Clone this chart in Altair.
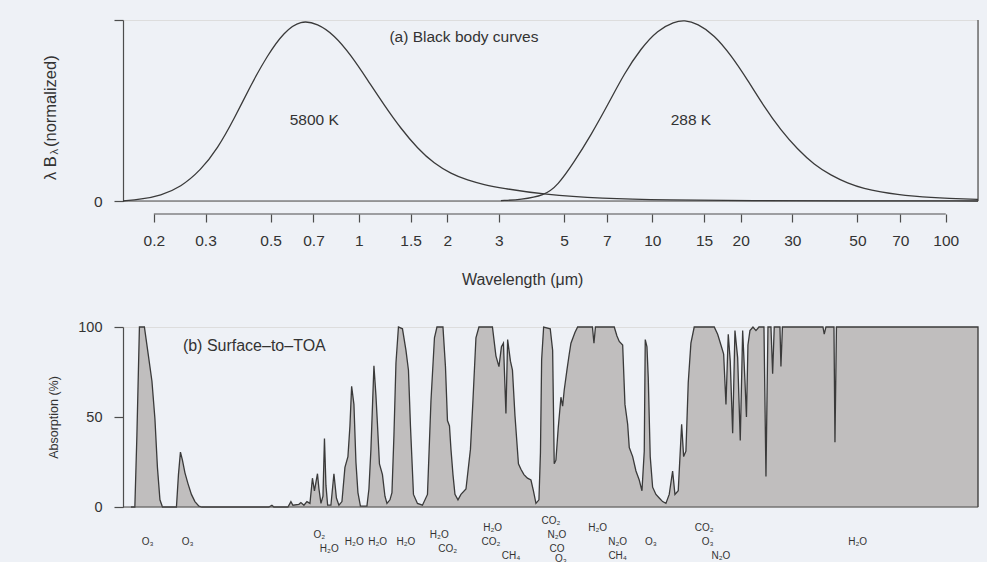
import altair as alt
import pandas as pd

FONT = "Liberation Sans"
INK = "#333333"
AXIS = "#4d4d4d"
BG = "#eef1f6"

# ---- wavelength axis -------------------------------------------------------
TICKS = [0.2, 0.3, 0.5, 0.7, 1, 1.5, 2, 3, 5, 7, 10, 15, 20, 30, 50, 70, 100]
WL_MIN, WL_MAX = 0.157, 128.8

# ---- (a) normalized lambda*B_lambda curves ----------------------------------
sun_wl = [0.157, 0.181, 0.211, 0.247, 0.289, 0.330, 0.376, 0.428, 0.488, 0.556,
          0.634, 0.723, 0.824, 0.939, 1.071, 1.219, 1.390, 1.585, 1.806, 2.059,
          2.347, 2.674, 3.048, 4.281, 6.68, 11.27, 21.7, 47.5, 128.8]
sun_val = [0.0, 0.01, 0.03, 0.077, 0.17, 0.29, 0.455, 0.64, 0.806, 0.935,
           1.0, 0.98, 0.917, 0.806, 0.668, 0.53, 0.40, 0.29, 0.206, 0.151,
           0.114, 0.09, 0.072, 0.035, 0.013, 0.005, 0.002, 0.001, 0.0]

earth_wl = [3.048, 3.565, 4.281, 4.755, 5.418, 6.177, 7.043, 8.024, 9.146, 10.43,
            11.88, 12.85, 14.27, 16.26, 18.53, 21.13, 24.07, 27.44, 31.27, 35.63,
            40.62, 46.31, 52.76, 60.13, 68.55, 78.08, 89.05, 101.5, 125.1, 128.8]
earth_val = [0.002, 0.008, 0.03, 0.085, 0.216, 0.364, 0.53, 0.705, 0.843, 0.945,
             0.99, 1.0, 0.98, 0.917, 0.806, 0.668, 0.52, 0.39, 0.285, 0.20,
             0.142, 0.098, 0.068, 0.05, 0.036, 0.027, 0.02, 0.015, 0.01, 0.009]

# ---- (b) surface-to-TOA absorption (%) -------------------------------------
abs_wl = [0.1671, 0.1723, 0.1751, 0.1786, 0.1857, 0.1909, 0.1970, 0.2017, 0.2057, 0.2098, 0.2140,
          0.2388, 0.2426, 0.2464, 0.2503, 0.2553, 0.2614, 0.2686, 0.2761, 0.2849, 0.2917,
          0.4934, 0.5051, 0.5131, 0.5728, 0.5864, 0.5957, 0.6244, 0.6343, 0.6494, 0.6649, 0.6808,
          0.6943, 0.7053, 0.7223, 0.7308, 0.7423, 0.7541, 0.7630, 0.7720, 0.7823, 0.8026, 0.8218,
          0.8381, 0.8547, 0.8752, 0.8960, 0.9173, 0.9318, 0.9443, 0.9615, 0.9767, 0.9922, 1.0118,
          1.0648, 1.0816, 1.0987, 1.1249, 1.1427, 1.1565, 1.1747, 1.2027, 1.2265, 1.2460, 1.2757,
          1.2959, 1.3163, 1.3372, 1.3636, 1.4073, 1.4464, 1.4751, 1.4984, 1.5342, 1.5831, 1.6464,
          1.7124, 1.7600, 1.8089, 1.8448, 1.9337, 1.9720, 2.0032, 2.0350, 2.0591, 2.0917, 2.1247,
          2.1753, 2.2270, 2.3164, 2.3990, 2.4465, 2.5050, 2.5645, 2.8510, 2.9302, 3.0004, 3.0598,
          3.1082, 3.1697, 3.2123, 3.2841, 3.3360, 3.4020, 3.4965, 3.5656, 3.6510, 3.7527, 3.8569,
          3.9331, 4.0116, 4.1069, 4.1554, 4.1948, 4.2611, 4.4875, 4.5730, 4.6302, 4.6924, 4.7785,
          4.8808, 4.9464, 5.0083, 5.1156, 5.2095, 5.2796, 5.4476, 5.5641, 6.2489, 6.3241, 6.3988,
          7.4162, 7.5751, 7.7142, 7.9229, 8.0665, 8.2391, 8.3440, 8.5698, 8.7936, 9.0230, 9.2180,
          9.3852, 9.4589, 9.5862, 9.6839, 9.8356, 10.023, 10.287, 10.556, 10.842, 11.125, 11.417,
          11.725, 11.940, 12.253, 12.585, 12.784, 13.015, 13.254, 13.535, 13.891, 16.255, 16.695,
          17.132, 17.499, 17.820, 18.144, 18.431, 18.782, 19.123, 19.532, 19.936, 20.316, 20.685,
          20.929, 21.176, 21.511, 22.027, 22.550, 23.086, 24.013, 24.392, 24.778, 25.366, 25.704,
          26.031, 27.220, 27.434, 27.758, 38.147, 38.535, 39.053, 41.591, 41.918, 42.414, 128.78]
abs_pct = [0, 0, 40, 100, 100, 86, 70, 49, 22, 4, 0,
           0, 18, 30.5, 26, 19, 13, 7, 3, 0.5, 0,
           0, 1, 0, 0, 3, 1, 1.5, 2.5, 1, 3, 2,
           16, 9, 18.5, 10, 2, 6, 38, 12, 1, 1, 18.5,
           5, 1, 3, 22, 28, 45, 67, 57, 25, 8, 0.5,
           0.5, 10, 32, 78.5, 62, 46, 24, 18, 6, 2, 4,
           8, 40, 80, 100, 99, 87, 76, 45, 7, 2, 1,
           7, 59, 94, 100, 100, 78, 48, 45, 32, 18, 7,
           4, 7, 10, 32, 59, 94, 100, 100, 84, 78, 89,
           91, 52, 93, 81, 76, 51, 24, 21, 18, 16, 15,
           9, 2, 4, 30, 82, 100, 99, 87, 24, 26, 44,
           61, 56, 65, 76, 85, 91, 97, 100, 100, 91, 100,
           100, 95, 92, 90, 57, 46, 33, 28, 20, 15, 9,
           31, 93, 89, 72, 28, 11, 7, 5, 3, 2, 7,
           20, 7, 9, 46, 28, 31, 69, 91, 100, 100, 96,
           90, 85, 57, 96, 81, 41, 98, 83, 37, 98, 70,
           50, 90, 98, 100, 98, 100, 100, 17, 100, 100, 74,
           100, 100, 78, 100, 100, 96, 100, 100, 36, 100, 100]

# absorbing gases, their band centre (μm) and the text line they sit on
gas_name = ["O₃", "O₃", "O₂", "H₂O", "H₂O", "H₂O", "H₂O", "H₂O", "CO₂", "H₂O", "CO₂", "CH₄",
            "CO₂", "N₂O", "CO", "O₃", "H₂O", "N₂O", "CH₄", "O₃", "CO₂", "O₃", "N₂O", "H₂O"]
gas_wl = [0.1905, 0.2608, 0.7325, 0.7920, 0.9638, 1.158, 1.446, 1.878, 2.006, 2.855, 2.818, 3.297,
          4.512, 4.729, 4.729, 4.881, 6.511, 7.617, 7.617, 9.890, 15.03, 15.43, 17.13, 50.08]
gas_line = [3, 3, 2, 4, 3, 3, 3, 2, 4, 1, 3, 5,
            0, 2, 4, 5.45, 1, 3, 5, 3, 1, 3, 5, 3]

W = 855
H_TOP = 181
H_BOT = 180
FS_TOP = 15.5

# ---------------------------------------------------------------- panel (a)
bb = pd.concat([
    pd.DataFrame({"wl": sun_wl, "val": sun_val, "body": "5800 K"}),
    pd.DataFrame({"wl": earth_wl, "val": earth_val, "body": "288 K"}),
])

x_top = alt.X(
    "wl:Q",
    scale=alt.Scale(type="log", domain=[WL_MIN, WL_MAX], nice=False),
    axis=alt.Axis(values=TICKS, format="~g", offset=13, tickSize=8, domain=False,
                  grid=False, labelPadding=11, labelFontSize=FS_TOP, labelColor=INK,
                  tickColor=AXIS, tickWidth=1.2, labelOverlap=False, labelFlush=False,
                  title=None),
)
y_top = alt.Y(
    "val:Q",
    scale=alt.Scale(domain=[0, 1], nice=False),
    axis=alt.Axis(values=[0, 1], labelExpr="datum.value == 0 ? '0' : ''", tickSize=9,
                  labelPadding=12, domainColor=AXIS, domainWidth=1.2, tickColor=AXIS,
                  tickWidth=1.2, grid=False, title=None, labelFontSize=FS_TOP, labelColor=INK),
)

curves = alt.Chart(bb).mark_line(color="#3a3a3a", strokeWidth=1.3, interpolate="basis").encode(
    x=x_top, y=y_top, detail="body:N")

frame_top = pd.DataFrame({"wl": [WL_MIN], "wl2": [WL_MAX], "val": [0.0]})
zero_top = alt.Chart(frame_top).mark_rule(color=AXIS, strokeWidth=1.2).encode(
    x=x_top, x2=alt.X2("wl2"), y=y_top)

edge_top = alt.Chart(pd.DataFrame({"wl": [WL_MAX], "val": [0.0], "val2": [1.0]})).mark_rule(
    color=AXIS, strokeWidth=1.2).encode(x=x_top, y=y_top, y2=alt.Y2("val2"))

axis_line = alt.Chart(pd.DataFrame({"wl": [TICKS[0]], "wl2": [TICKS[-1]]})).mark_rule(
    color=AXIS, strokeWidth=1.2).encode(x=x_top, x2=alt.X2("wl2"), y=alt.value(H_TOP + 13))

notes_top = pd.DataFrame({
    "wl": [2.28, 0.7041, 13.535],
    "val": [0.905, 0.445, 0.445],
    "label": ["(a) Black body curves", "5800 K", "288 K"],
})
text_top = alt.Chart(notes_top).mark_text(fontSize=FS_TOP, color=INK, font=FONT).encode(
    x=x_top, y=y_top, text="label:N")

xtitle = alt.Chart(pd.DataFrame({"wl": [3.614], "label": ["Wavelength (μm)"]})).mark_text(
    fontSize=16, color=INK, font=FONT).encode(x=x_top, y=alt.value(260), text="label:N")

# y-axis title with a subscripted lambda, written upward
def vtext(s, size, dx, dy):
    return alt.Chart(pd.DataFrame({"t": [s]})).mark_text(
        angle=270, align="left", baseline="middle", fontSize=size, color=INK, font=FONT
    ).encode(x=alt.value(dx), y=alt.value(dy), text="t:N")

ytitle = alt.layer(
    vtext("λ B", 16.5, -72, 160),
    vtext("λ", 11, -68.5, 134.5),
    vtext("(normalized)", 16.5, -72, 127),
)

top = alt.layer(zero_top, edge_top, curves, axis_line, text_top, xtitle, ytitle).properties(
    width=W, height=H_TOP)

# ---------------------------------------------------------------- panel (b)
absorb = pd.DataFrame({"wl": abs_wl, "pct": abs_pct})
absorb["idx"] = range(len(absorb))
outline_df = pd.concat([absorb, pd.DataFrame({"wl": [abs_wl[-1]], "pct": [0], "idx": [len(absorb)]})])

x_bot = alt.X("wl:Q", scale=alt.Scale(type="log", domain=[WL_MIN, WL_MAX], nice=False), axis=None)
y_bot = alt.Y(
    "pct:Q",
    scale=alt.Scale(domain=[0, 100], nice=False),
    axis=alt.Axis(values=[0, 50, 100], tickSize=9, labelPadding=12, domainColor=AXIS,
                  domainWidth=1.2, tickColor=AXIS, tickWidth=1.2, grid=False,
                  labelFontSize=14.5, labelColor=INK, title="Absorption (%)",
                  titleFontSize=12.5, titleFontWeight="normal", titleColor=INK,
                  titlePadding=17, titleFont=FONT),
)

area = alt.Chart(absorb).mark_area(color="#c0bebe", interpolate="linear").encode(x=x_bot, y=y_bot)
outline = alt.Chart(outline_df).mark_line(color="#3a3a3a", strokeWidth=1.3).encode(
    x=x_bot, y=y_bot, order=alt.Order("idx:Q"))
zero_bot = alt.Chart(pd.DataFrame({"wl": [WL_MIN], "wl2": [WL_MAX], "pct": [0.0]})).mark_rule(
    color=AXIS, strokeWidth=1.2).encode(x=x_bot, x2=alt.X2("wl2"), y=y_bot)
text_bot = alt.Chart(pd.DataFrame({"wl": [0.4400], "pct": [89.5], "label": ["(b) Surface–to–TOA"]})).mark_text(
    fontSize=16, color=INK, font=FONT).encode(x=x_bot, y=y_bot, text="label:N")

panel_b = alt.layer(area, outline, zero_bot, text_bot)

gases = pd.DataFrame({"gas": gas_name, "wl": gas_wl, "line": gas_line})
gas_text = alt.Chart(gases).mark_text(fontSize=10, color=INK, font=FONT).encode(
    x=x_bot,
    y=alt.Y("line:Q", scale=alt.Scale(domain=[0, 6], range=[193.5, 236]), axis=None),
    text="gas:N",
)

bottom = alt.layer(panel_b, gas_text).resolve_scale(y="independent").properties(
    width=W, height=H_BOT)

chart = alt.vconcat(
    top, bottom, spacing=126, bounds="flush",
    padding={"left": 42, "top": 17, "right": 5, "bottom": 0},
    background=BG,
).configure_view(stroke=None).configure(font=FONT)

chart.save("out.html", embed_options={"renderer": "svg", "actions": False})
